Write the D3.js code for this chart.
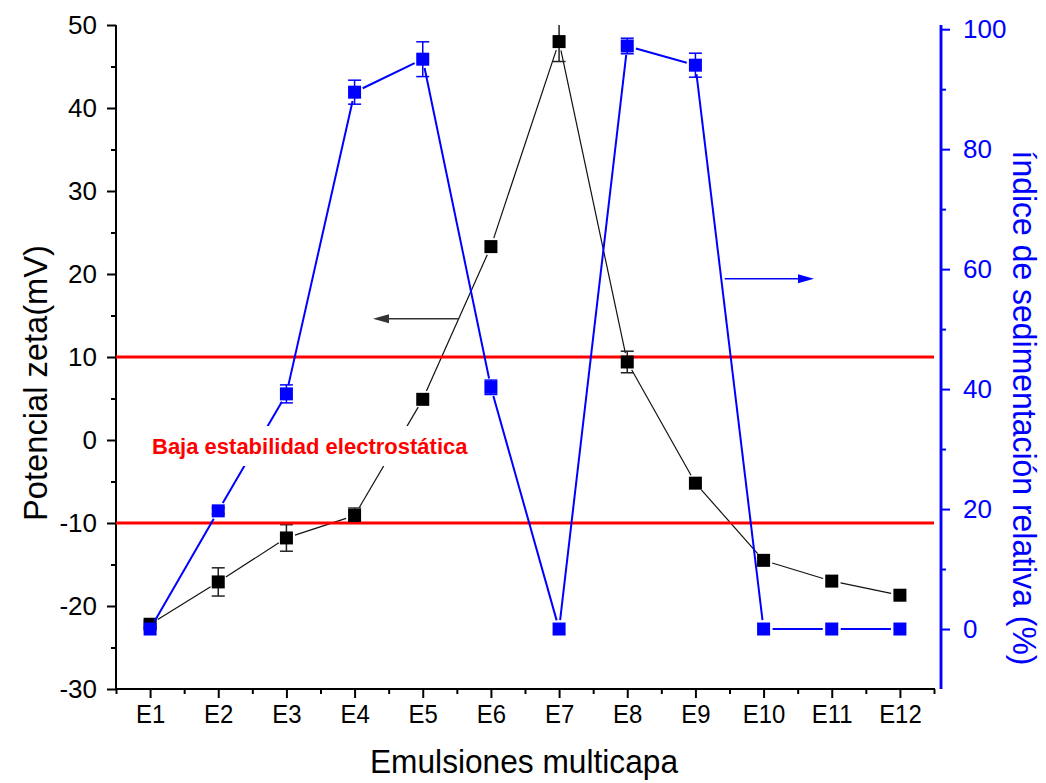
<!DOCTYPE html>
<html>
<head>
<meta charset="utf-8">
<script src="https://cdn.jsdelivr.net/npm/d3@7"></script>
<style>
  html, body { margin: 0; padding: 0; background: #fff; }
  svg { display: block; }
  text { font-family: "Liberation Sans", Arial, sans-serif; }
</style>
</head>
<body>
<svg id="chart" width="1046" height="783"></svg>
<script>
// ---- data ----
const categories = ["E1","E2","E3","E4","E5","E6","E7","E8","E9","E10","E11","E12"];
const zeta      = [-22.2, -17.1, -11.8, -9.1, 4.9, 23.3, 48.0, 9.4, -5.2, -14.5, -17.0, -18.7];
const zetaErr   = [0.4, 1.7, 1.6, 0.9, 0, 0, 2.4, 1.3, 0, 0, 0, 0];
const sedim     = [0, 19.7, 39.2, 89.5, 95.0, 40.3, 0, 97.2, 94.0, 0, 0, 0];
const sedimErr  = [0, 0.5, 1.5, 2.0, 2.9, 1.2, 0, 1.3, 2.0, 0, 0, 0];
const leftTicks  = [-30, -20, -10, 0, 10, 20, 30, 40, 50];
const rightTicks = [0, 20, 40, 60, 80, 100];
const stabilityLimits = [10, -10];
const annotationText = "Baja estabilidad electrostática";
// arrows: [x start, x tip (category units), y value]
const zetaArrow  = [5.52, 4.27, 14.6];
const sedimArrow = [9.43, 10.74, 58.4];

// ---- layout ----
const svg = d3.select("#chart");
const X0 = 116, X1 = 934, YT = 25, YB = 689, XR = 941;
const x  = d3.scaleLinear().domain([0.5, 12.5]).range([X0, X1]);
const yL = d3.scaleLinear().domain([-30, 50]).range([YB, YT]);
const yR = d3.scaleLinear().domain([-10, 100.7]).range([YB, YT]);
const BLUE = "#0000ff", RED = "#ff0000";
const fmt = (d) => String(d);

svg.append("defs").append("clipPath").attr("id", "plotclip")
  .append("rect").attr("x", X0 - 20).attr("y", YT).attr("width", X1 - X0 + 40).attr("height", YB - YT);

// ---- axes ----
// left axis
const gL = svg.append("g").attr("transform", `translate(${X0},0)`);
gL.call(d3.axisLeft(yL).tickValues(leftTicks).tickSize(9).tickPadding(10).tickFormat(fmt));
gL.append("g").call(d3.axisLeft(yL).tickValues(d3.range(-25, 50, 10)).tickSize(5).tickFormat(""));
gL.selectAll(".domain").attr("stroke", "#000").attr("stroke-width", 2).attr("d", `M0,${YT}V${YB}`);
gL.selectAll(".tick line").attr("stroke", "#000").attr("stroke-width", 2);
gL.selectAll(".tick text").attr("font-size", 26).attr("fill", "#000")
  .style("font-family", '"Liberation Sans", Arial, sans-serif');

// bottom axis
const gB = svg.append("g").attr("transform", `translate(0,${YB})`);
gB.call(d3.axisBottom(x).tickValues(d3.range(1, 13)).tickSize(9).tickPadding(7)
  .tickFormat((d) => categories[d - 1]));
gB.append("g").call(d3.axisBottom(x).tickValues(d3.range(0.5, 13, 1)).tickSize(5).tickFormat(""));
gB.selectAll(".domain").attr("stroke", "#000").attr("stroke-width", 2).attr("d", `M${X0 - 1},0H${X1 + 1}`);
gB.selectAll(".tick line").attr("stroke", "#000").attr("stroke-width", 2);
gB.selectAll(".tick text").attr("font-size", 26).attr("fill", "#000")
  .style("font-family", '"Liberation Sans", Arial, sans-serif')
  .each(function () {
    const w = this.getComputedTextLength();
    d3.select(this).attr("textLength", w * 0.92).attr("lengthAdjust", "spacingAndGlyphs");
  });

// right axis
const gR = svg.append("g").attr("transform", `translate(${XR},0)`);
gR.call(d3.axisRight(yR).tickValues(rightTicks).tickSize(9).tickPadding(13).tickFormat(fmt));
gR.append("g").call(d3.axisRight(yR).tickValues(d3.range(10, 100, 20)).tickSize(5).tickFormat(""));
gR.selectAll(".domain").attr("stroke", BLUE).attr("stroke-width", 2.5).attr("d", `M0,${YT}V${YB}`);
gR.selectAll(".tick line").attr("stroke", BLUE).attr("stroke-width", 2);
gR.selectAll(".tick text").attr("font-size", 26).attr("fill", BLUE)
  .style("font-family", '"Liberation Sans", Arial, sans-serif');

// titles
svg.append("text").attr("x", 524).attr("y", 773).attr("text-anchor", "middle")
  .attr("font-size", 33).attr("textLength", 308).attr("lengthAdjust", "spacingAndGlyphs")
  .attr("fill", "#000").text("Emulsiones multicapa");
svg.append("text").attr("transform", "translate(47,383) rotate(-90)").attr("text-anchor", "middle")
  .attr("font-size", 34).attr("textLength", 276).attr("lengthAdjust", "spacingAndGlyphs")
  .attr("fill", "#000").text("Potencial zeta(mV)");
svg.append("text").attr("transform", "translate(1013,408) rotate(90)").attr("text-anchor", "middle")
  .attr("font-size", 33).attr("textLength", 515).attr("lengthAdjust", "spacingAndGlyphs")
  .attr("fill", BLUE).text("índice de sedimentación relativa (%)");

// ---- series helpers ----
const plot = svg.append("g").attr("clip-path", "url(#plotclip)");

function drawGappedLine(g, vals, yScale, color, width, gap) {
  for (let i = 0; i < vals.length - 1; i++) {
    const ax = x(i + 1), ay = yScale(vals[i]);
    const bx = x(i + 2), by = yScale(vals[i + 1]);
    const len = Math.hypot(bx - ax, by - ay);
    if (len <= 2 * gap) continue;
    const ux = (bx - ax) / len, uy = (by - ay) / len;
    g.append("line")
      .attr("x1", ax + ux * gap).attr("y1", ay + uy * gap)
      .attr("x2", bx - ux * gap).attr("y2", by - uy * gap)
      .attr("stroke", color).attr("stroke-width", width);
  }
}
function drawErrors(g, vals, errs, yScale, color) {
  vals.forEach((v, i) => {
    const e = errs[i];
    if (!e) return;
    const cx = x(i + 1), y1 = yScale(v + e), y2 = yScale(v - e);
    g.append("line").attr("x1", cx).attr("x2", cx).attr("y1", y1).attr("y2", y2)
      .attr("stroke", color).attr("stroke-width", 1.5);
    [y1, y2].forEach((yy) => {
      g.append("line").attr("x1", cx - 6.5).attr("x2", cx + 6.5).attr("y1", yy).attr("y2", yy)
        .attr("stroke", color).attr("stroke-width", 1.5);
    });
  });
}
function drawMarkers(g, vals, yScale, color) {
  g.selectAll(null).data(vals).enter().append("rect")
    .attr("x", (d, i) => x(i + 1) - 6.5).attr("y", (d) => yScale(d) - 6.5)
    .attr("width", 13).attr("height", 13).attr("fill", color);
}

// zeta series (black)
drawGappedLine(plot, zeta, yL, "#111", 1.2, 9);
drawErrors(plot, zeta, zetaErr, yL, "#222");

// stability limits
plot.selectAll(null).data(stabilityLimits).enter().append("line")
  .attr("x1", X0).attr("x2", X1).attr("y1", (d) => yL(d)).attr("y2", (d) => yL(d))
  .attr("stroke", RED).attr("stroke-width", 3);

drawMarkers(plot, zeta, yL, "#000");

// sedimentation series (blue)
drawGappedLine(plot, sedim, yR, BLUE, 2, 9);
drawErrors(plot, sedim, sedimErr, yR, BLUE);
drawMarkers(plot, sedim, yR, BLUE);

// arrows
function drawArrow(xs, xt, yv, yScale, color) {
  const sx = x(xs), tx = x(xt), yy = yScale(yv);
  const dir = Math.sign(tx - sx);
  const hl = 16, hw = 4.5;
  svg.append("line").attr("x1", sx).attr("x2", tx - dir * hl).attr("y1", yy).attr("y2", yy)
    .attr("stroke", color).attr("stroke-width", 1.5);
  svg.append("path")
    .attr("d", `M${tx},${yy}L${tx - dir * hl},${yy - hw}L${tx - dir * hl},${yy + hw}Z`)
    .attr("fill", color);
}
drawArrow(zetaArrow[0], zetaArrow[1], zetaArrow[2], yL, "#333");
drawArrow(sedimArrow[0], sedimArrow[1], sedimArrow[2], yR, BLUE);

// annotation with white background
svg.append("rect").attr("x", 148).attr("y", 426).attr("width", 324).attr("height", 40).attr("fill", "#fff");
svg.append("text").attr("x", 152).attr("y", 454).attr("font-size", 22).attr("font-weight", "bold")
  .attr("fill", RED).text(annotationText);
</script>
</body>
</html>
